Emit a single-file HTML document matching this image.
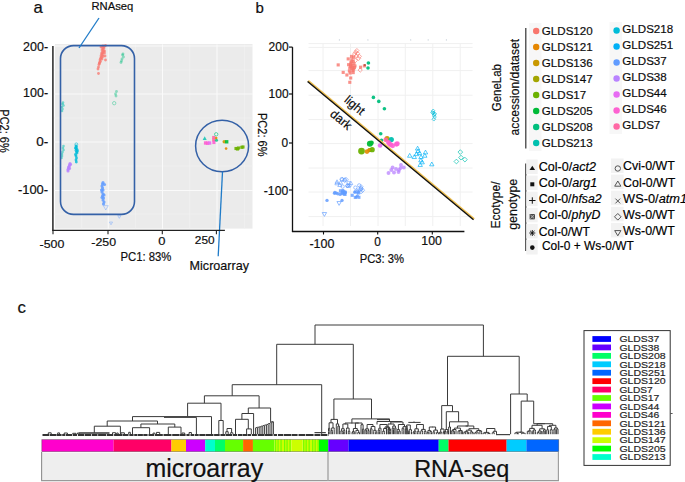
<!DOCTYPE html><html><head><meta charset="utf-8"><style>html,body{margin:0;padding:0;background:#fff;}svg{display:block;}text{font-family:"Liberation Sans",sans-serif;stroke:#000;stroke-width:0.18px;}</style></head><body>
<svg width="685" height="482" viewBox="0 0 685 482">
<rect width="685" height="482" fill="#fff"/>
<rect x="55" y="44" width="197.5" height="184.6" fill="#EBEBEB"/>
<line x1="81.6" y1="44.5" x2="81.6" y2="229" stroke="#F2F2F2" stroke-width="0.6" />
<line x1="135.5" y1="44.5" x2="135.5" y2="229" stroke="#F2F2F2" stroke-width="0.6" />
<line x1="189.6" y1="44.5" x2="189.6" y2="229" stroke="#F2F2F2" stroke-width="0.6" />
<line x1="244.5" y1="44.5" x2="244.5" y2="229" stroke="#F2F2F2" stroke-width="0.6" />
<line x1="54" y1="70" x2="253" y2="70" stroke="#F2F2F2" stroke-width="0.6" />
<line x1="54" y1="118" x2="253" y2="118" stroke="#F2F2F2" stroke-width="0.6" />
<line x1="54" y1="166" x2="253" y2="166" stroke="#F2F2F2" stroke-width="0.6" />
<line x1="54" y1="214" x2="253" y2="214" stroke="#F2F2F2" stroke-width="0.6" />
<line x1="108.3" y1="44.5" x2="108.3" y2="229" stroke="#FAFAFA" stroke-width="1.1" />
<line x1="162.5" y1="44.5" x2="162.5" y2="229" stroke="#FAFAFA" stroke-width="1.1" />
<line x1="217" y1="44.5" x2="217" y2="229" stroke="#FAFAFA" stroke-width="1.1" />
<line x1="54" y1="46" x2="253" y2="46" stroke="#FAFAFA" stroke-width="1.1" />
<line x1="54" y1="94" x2="253" y2="94" stroke="#FAFAFA" stroke-width="1.1" />
<line x1="54" y1="142" x2="253" y2="142" stroke="#FAFAFA" stroke-width="1.1" />
<line x1="54" y1="190.5" x2="253" y2="190.5" stroke="#FAFAFA" stroke-width="1.1" />
<circle cx="103" cy="46" r="1.4300000000000002" fill="#F8766D" fill-opacity="0.75"/>
<circle cx="104" cy="46.5" r="1.4300000000000002" fill="#F8766D" fill-opacity="0.75"/>
<circle cx="102.5" cy="47.5" r="1.4300000000000002" fill="#F8766D" fill-opacity="0.75"/>
<circle cx="104" cy="48" r="1.4300000000000002" fill="#F8766D" fill-opacity="0.75"/>
<circle cx="103" cy="49" r="1.4300000000000002" fill="#F8766D" fill-opacity="0.75"/>
<circle cx="102" cy="50" r="1.4300000000000002" fill="#F8766D" fill-opacity="0.75"/>
<circle cx="103.5" cy="51" r="1.4300000000000002" fill="#F8766D" fill-opacity="0.75"/>
<circle cx="102" cy="52.5" r="1.4300000000000002" fill="#F8766D" fill-opacity="0.75"/>
<circle cx="103" cy="53" r="1.4300000000000002" fill="#F8766D" fill-opacity="0.75"/>
<circle cx="101.5" cy="54" r="1.4300000000000002" fill="#F8766D" fill-opacity="0.75"/>
<circle cx="102.5" cy="55" r="1.4300000000000002" fill="#F8766D" fill-opacity="0.75"/>
<circle cx="101" cy="56" r="1.4300000000000002" fill="#F8766D" fill-opacity="0.75"/>
<circle cx="103" cy="56.5" r="1.4300000000000002" fill="#F8766D" fill-opacity="0.75"/>
<circle cx="101.5" cy="57.5" r="1.4300000000000002" fill="#F8766D" fill-opacity="0.75"/>
<circle cx="100.5" cy="58.5" r="1.4300000000000002" fill="#F8766D" fill-opacity="0.75"/>
<circle cx="102" cy="59" r="1.4300000000000002" fill="#F8766D" fill-opacity="0.75"/>
<circle cx="100" cy="60" r="1.4300000000000002" fill="#F8766D" fill-opacity="0.75"/>
<circle cx="100.5" cy="61.5" r="1.4300000000000002" fill="#F8766D" fill-opacity="0.75"/>
<circle cx="99.5" cy="62.5" r="1.4300000000000002" fill="#F8766D" fill-opacity="0.75"/>
<circle cx="99.5" cy="63.5" r="1.4300000000000002" fill="#F8766D" fill-opacity="0.75"/>
<circle cx="104.5" cy="51" r="1.4300000000000002" fill="#F8766D" fill-opacity="0.75"/>
<circle cx="105" cy="56" r="1.4300000000000002" fill="#F8766D" fill-opacity="0.75"/>
<circle cx="105.5" cy="60" r="1.4300000000000002" fill="#F8766D" fill-opacity="0.75"/>
<circle cx="104.5" cy="53" r="1.4300000000000002" fill="#F8766D" fill-opacity="0.75"/>
<circle cx="98.5" cy="67" r="1.4300000000000002" fill="#F8766D" fill-opacity="0.75"/>
<circle cx="98" cy="69" r="1.4300000000000002" fill="#F8766D" fill-opacity="0.75"/>
<circle cx="98.5" cy="73.5" r="1.4300000000000002" fill="#F8766D" fill-opacity="0.75"/>
<circle cx="99" cy="64.5" r="1.4300000000000002" fill="#F8766D" fill-opacity="0.75"/>
<circle cx="105.5" cy="45.5" r="1.4300000000000002" fill="#F8766D" fill-opacity="0.75"/>
<circle cx="101" cy="47" r="1.4300000000000002" fill="#F8766D" fill-opacity="0.75"/>
<circle cx="122.5" cy="55" r="1.4300000000000002" fill="#00BF7D" fill-opacity="0.4"/>
<circle cx="123.5" cy="57" r="1.4300000000000002" fill="#00BF7D" fill-opacity="0.4"/>
<circle cx="122" cy="59" r="1.4300000000000002" fill="#00BF7D" fill-opacity="0.4"/>
<circle cx="121.5" cy="61" r="1.4300000000000002" fill="#00BF7D" fill-opacity="0.4"/>
<circle cx="121" cy="62.5" r="1.4300000000000002" fill="#00BF7D" fill-opacity="0.4"/>
<circle cx="123" cy="54" r="1.4300000000000002" fill="#00BF7D" fill-opacity="0.4"/>
<circle cx="116.5" cy="91.5" r="1.4300000000000002" fill="#00BF7D" fill-opacity="0.4"/>
<circle cx="115.5" cy="94" r="1.4300000000000002" fill="#00BF7D" fill-opacity="0.4"/>
<circle cx="116" cy="96" r="1.4300000000000002" fill="#00BF7D" fill-opacity="0.4"/>
<circle cx="114.2" cy="103.2" r="1.6900000000000002" fill="none" stroke="#00BF7D" stroke-width="0.8" stroke-opacity="0.5"/>
<circle cx="63" cy="102.5" r="1.3" fill="#00C0AF" fill-opacity="0.5"/>
<circle cx="62.5" cy="104" r="1.3" fill="#00C0AF" fill-opacity="0.5"/>
<circle cx="63.5" cy="105.5" r="1.3" fill="#00C0AF" fill-opacity="0.5"/>
<circle cx="62" cy="107" r="1.3" fill="#00C0AF" fill-opacity="0.5"/>
<circle cx="62.5" cy="109" r="1.3" fill="#00C0AF" fill-opacity="0.5"/>
<circle cx="62" cy="111" r="1.3" fill="#00C0AF" fill-opacity="0.5"/>
<circle cx="63" cy="148" r="1.3" fill="#00C0AF" fill-opacity="0.5"/>
<circle cx="63.5" cy="150" r="1.3" fill="#00C0AF" fill-opacity="0.5"/>
<circle cx="62.5" cy="152" r="1.3" fill="#00C0AF" fill-opacity="0.5"/>
<circle cx="62" cy="154" r="1.3" fill="#00C0AF" fill-opacity="0.5"/>
<circle cx="62" cy="156" r="1.3" fill="#00C0AF" fill-opacity="0.5"/>
<circle cx="61.5" cy="158" r="1.3" fill="#00C0AF" fill-opacity="0.5"/>
<circle cx="63.5" cy="146" r="1.3" fill="#00C0AF" fill-opacity="0.5"/>
<circle cx="76" cy="146" r="1.4300000000000002" fill="#00BCD8" fill-opacity="0.8"/>
<circle cx="76.5" cy="147" r="1.4300000000000002" fill="#00BCD8" fill-opacity="0.8"/>
<circle cx="76" cy="148.5" r="1.4300000000000002" fill="#00BCD8" fill-opacity="0.8"/>
<circle cx="77" cy="149.5" r="1.4300000000000002" fill="#00BCD8" fill-opacity="0.8"/>
<circle cx="76" cy="150.5" r="1.4300000000000002" fill="#00BCD8" fill-opacity="0.8"/>
<circle cx="76.5" cy="152" r="1.4300000000000002" fill="#00BCD8" fill-opacity="0.8"/>
<circle cx="77" cy="153" r="1.4300000000000002" fill="#00BCD8" fill-opacity="0.8"/>
<circle cx="75.5" cy="154.5" r="1.4300000000000002" fill="#00BCD8" fill-opacity="0.8"/>
<circle cx="76" cy="156" r="1.4300000000000002" fill="#00BCD8" fill-opacity="0.8"/>
<circle cx="76.5" cy="158" r="1.4300000000000002" fill="#00BCD8" fill-opacity="0.8"/>
<circle cx="76" cy="160" r="1.4300000000000002" fill="#00BCD8" fill-opacity="0.8"/>
<circle cx="76.3" cy="162" r="1.4300000000000002" fill="#00BCD8" fill-opacity="0.8"/>
<circle cx="77.5" cy="151" r="1.4300000000000002" fill="#00BCD8" fill-opacity="0.8"/>
<circle cx="75.5" cy="148" r="1.4300000000000002" fill="#00BCD8" fill-opacity="0.8"/>
<circle cx="76.3" cy="144.3" r="1.4300000000000002" fill="none" stroke="#00BCD8" stroke-width="0.8" stroke-opacity="0.7"/>
<circle cx="70" cy="163.5" r="1.56" fill="#B983FF" fill-opacity="0.85"/>
<circle cx="69.5" cy="165" r="1.56" fill="#B983FF" fill-opacity="0.85"/>
<circle cx="69" cy="166.5" r="1.56" fill="#B983FF" fill-opacity="0.85"/>
<circle cx="68.5" cy="168" r="1.56" fill="#B983FF" fill-opacity="0.85"/>
<circle cx="68" cy="169.5" r="1.56" fill="#B983FF" fill-opacity="0.85"/>
<circle cx="68" cy="171" r="1.56" fill="#B983FF" fill-opacity="0.85"/>
<circle cx="69" cy="167" r="1.56" fill="#B983FF" fill-opacity="0.85"/>
<circle cx="70.5" cy="164.5" r="1.56" fill="#B983FF" fill-opacity="0.85"/>
<circle cx="69.5" cy="168.5" r="1.56" fill="#B983FF" fill-opacity="0.85"/>
<circle cx="103" cy="182.5" r="1.56" fill="#619CFF" fill-opacity="0.85"/>
<circle cx="102.5" cy="184" r="1.56" fill="#619CFF" fill-opacity="0.85"/>
<circle cx="102" cy="186" r="1.56" fill="#619CFF" fill-opacity="0.85"/>
<circle cx="102.5" cy="188" r="1.56" fill="#619CFF" fill-opacity="0.85"/>
<circle cx="103" cy="190" r="1.56" fill="#619CFF" fill-opacity="0.85"/>
<circle cx="102" cy="192" r="1.56" fill="#619CFF" fill-opacity="0.85"/>
<circle cx="103" cy="194" r="1.56" fill="#619CFF" fill-opacity="0.85"/>
<circle cx="102.5" cy="196" r="1.56" fill="#619CFF" fill-opacity="0.85"/>
<circle cx="103.5" cy="198" r="1.56" fill="#619CFF" fill-opacity="0.85"/>
<circle cx="103" cy="200" r="1.56" fill="#619CFF" fill-opacity="0.85"/>
<circle cx="104" cy="202" r="1.56" fill="#619CFF" fill-opacity="0.85"/>
<circle cx="103.5" cy="204" r="1.56" fill="#619CFF" fill-opacity="0.85"/>
<circle cx="104.5" cy="184.5" r="1.56" fill="#619CFF" fill-opacity="0.85"/>
<circle cx="101.5" cy="190" r="1.56" fill="#619CFF" fill-opacity="0.85"/>
<circle cx="104" cy="195" r="1.56" fill="#619CFF" fill-opacity="0.85"/>
<circle cx="102" cy="197.5" r="1.56" fill="#619CFF" fill-opacity="0.85"/>
<path d="M105.8 209.996L108.29599999999999 205.628L103.304 205.628Z" fill="none" stroke="#619CFF" stroke-width="0.8" stroke-opacity="0.5"/>
<path d="M119.3 218.36L120.86 215.63000000000002L117.74 215.63000000000002Z" fill="none" stroke="#619CFF" stroke-width="0.8" stroke-opacity="0.5"/>
<path d="M111 224.76L112.56 222.03L109.44 222.03Z" fill="none" stroke="#619CFF" stroke-width="0.8" stroke-opacity="0.5"/>
<path d="M204.7 136.372L206.72799999999998 139.921L202.672 139.921Z" fill="#00C0AF" fill-opacity="0.8"/>
<rect x="203.91" y="141.31" width="3.3800000000000003" height="3.3800000000000003" fill="#FD61D1" fill-opacity="0.9"/>
<rect x="205.91" y="141.51" width="3.3800000000000003" height="3.3800000000000003" fill="#FD61D1" fill-opacity="0.9"/>
<rect x="207.91" y="141.31" width="3.3800000000000003" height="3.3800000000000003" fill="#E76BF3" fill-opacity="0.9"/>
<rect x="212.14" y="135.94" width="3.12" height="3.12" fill="#FF67A4" fill-opacity="0.9"/>
<rect x="212.14" y="138.44" width="3.12" height="3.12" fill="#FF67A4" fill-opacity="0.9"/>
<rect x="212.34" y="140.94" width="3.12" height="3.12" fill="#FD61D1" fill-opacity="0.9"/>
<circle cx="216.2" cy="134.3" r="1.6900000000000002" fill="none" stroke="#00BF7D" stroke-width="0.8" stroke-opacity="0.8"/>
<circle cx="216.2" cy="138" r="1.3" fill="#E58700" fill-opacity="0.9"/>
<circle cx="216.5" cy="140.3" r="1.56" fill="#00BF7D" fill-opacity="0.8"/>
<circle cx="224.2" cy="141.8" r="1.6900000000000002" fill="#C99800" fill-opacity="0.9"/>
<rect x="225.01" y="140.11" width="3.3800000000000003" height="3.3800000000000003" fill="#00BA38" fill-opacity="0.9"/>
<circle cx="226.1" cy="148.6" r="1.3" fill="#E58700" fill-opacity="0.9"/>
<rect x="234.44" y="146.94" width="3.12" height="3.12" fill="#6BB100" fill-opacity="0.9"/>
<rect x="235.94" y="147.44" width="3.12" height="3.12" fill="#6BB100" fill-opacity="0.9"/>
<rect x="236.94" y="146.44" width="3.12" height="3.12" fill="#6BB100" fill-opacity="0.9"/>
<rect x="240.24" y="145.74" width="3.12" height="3.12" fill="#6BB100" fill-opacity="0.9"/>
<rect x="241.44" y="145.44" width="3.12" height="3.12" fill="#6BB100" fill-opacity="0.9"/>
<rect x="60.5" y="45.6" width="74" height="168.8" rx="13" ry="13" fill="none" stroke="#3461A7" stroke-width="1.6"/>
<ellipse cx="222.1" cy="146" rx="26.5" ry="25.7" fill="none" stroke="#3461A7" stroke-width="1.5"/>
<line x1="99" y1="18" x2="79" y2="48" stroke="#1F7BC8" stroke-width="1.3" />
<line x1="222.5" y1="171.7" x2="218.2" y2="256.2" stroke="#1F7BC8" stroke-width="1.3" />
<line x1="52.9" y1="46" x2="52.9" y2="231" stroke="#333" stroke-width="1.6" />
<line x1="52.4" y1="230.4" x2="224.9" y2="230.4" stroke="#222" stroke-width="1.3" />
<line x1="53" y1="230.4" x2="53" y2="234.3" stroke="#222" stroke-width="1.1" />
<line x1="108" y1="230.4" x2="108" y2="234.3" stroke="#222" stroke-width="1.1" />
<line x1="162.3" y1="230.4" x2="162.3" y2="234.3" stroke="#222" stroke-width="1.1" />
<line x1="216.4" y1="230.4" x2="216.4" y2="234.3" stroke="#222" stroke-width="1.1" />
<text x="23.1" y="50.6" font-size="12.3" fill="#111" textLength="25" lengthAdjust="spacingAndGlyphs" >200-</text>
<text x="23.1" y="97.4" font-size="12.3" fill="#111" textLength="25" lengthAdjust="spacingAndGlyphs" >100-</text>
<text x="36.2" y="146.0" font-size="12.3" fill="#111" textLength="12" lengthAdjust="spacingAndGlyphs" >0-</text>
<text x="17.9" y="193.7" font-size="12.3" fill="#111" textLength="30.2" lengthAdjust="spacingAndGlyphs" >-100-</text>
<text x="39.6" y="248.2" font-size="11.8" fill="#111" textLength="24.8" lengthAdjust="spacingAndGlyphs" >-500</text>
<text x="91.3" y="245.9" font-size="11.8" fill="#111" textLength="24.8" lengthAdjust="spacingAndGlyphs" >-250</text>
<text x="158.3" y="245.2" font-size="11.8" fill="#111" textLength="7.2" lengthAdjust="spacingAndGlyphs" >0</text>
<text x="194.8" y="243.8" font-size="11.8" fill="#111" textLength="19.8" lengthAdjust="spacingAndGlyphs" >250</text>
<text x="120.4" y="261.3" font-size="12" fill="#111" textLength="51" lengthAdjust="spacingAndGlyphs" >PC1: 83%</text>
<text x="0.3" y="109.3" font-size="12.5" fill="#111" textLength="43.5" lengthAdjust="spacingAndGlyphs" transform="rotate(90 0.3 109.3)" >PC2: 6%</text>
<text x="33.4" y="13.1" font-size="16.6" fill="#111" >a</text>
<text x="91.5" y="10.3" font-size="11.2" fill="#111" textLength="41.8" lengthAdjust="spacingAndGlyphs" >RNAseq</text>
<text x="189.6" y="270.4" font-size="12.6" fill="#111" textLength="59.4" lengthAdjust="spacingAndGlyphs" >Microarray</text>
<line x1="323" y1="43.2" x2="323" y2="226" stroke="#F0F0F0" stroke-width="1" />
<line x1="350.5" y1="43.2" x2="350.5" y2="226" stroke="#F0F0F0" stroke-width="1" />
<line x1="378" y1="43.2" x2="378" y2="226" stroke="#F0F0F0" stroke-width="1" />
<line x1="405.3" y1="43.2" x2="405.3" y2="226" stroke="#F0F0F0" stroke-width="1" />
<line x1="432.8" y1="43.2" x2="432.8" y2="226" stroke="#F0F0F0" stroke-width="1" />
<line x1="460.2" y1="43.2" x2="460.2" y2="226" stroke="#F0F0F0" stroke-width="1" />
<line x1="308.5" y1="43.6" x2="472.6" y2="43.6" stroke="#F0F0F0" stroke-width="1" />
<line x1="308.5" y1="47.4" x2="472.6" y2="47.4" stroke="#F0F0F0" stroke-width="1" />
<line x1="308.5" y1="70.6" x2="472.6" y2="70.6" stroke="#F0F0F0" stroke-width="1" />
<line x1="308.5" y1="95.2" x2="472.6" y2="95.2" stroke="#F0F0F0" stroke-width="1" />
<line x1="308.5" y1="119.6" x2="472.6" y2="119.6" stroke="#F0F0F0" stroke-width="1" />
<line x1="308.5" y1="143.6" x2="472.6" y2="143.6" stroke="#F0F0F0" stroke-width="1" />
<line x1="308.5" y1="168" x2="472.6" y2="168" stroke="#F0F0F0" stroke-width="1" />
<line x1="308.5" y1="192" x2="472.6" y2="192" stroke="#F0F0F0" stroke-width="1" />
<line x1="308.5" y1="216.6" x2="472.6" y2="216.6" stroke="#F0F0F0" stroke-width="1" />
<circle cx="339.4" cy="39.9" r="0.6" fill="#9ab" fill-opacity="0.6"/>
<circle cx="367.9" cy="39.9" r="0.6" fill="#9ab" fill-opacity="0.6"/>
<circle cx="410.7" cy="39.9" r="0.6" fill="#9ab" fill-opacity="0.6"/>
<circle cx="428.2" cy="39.9" r="0.6" fill="#9ab" fill-opacity="0.6"/>
<circle cx="446.4" cy="39.9" r="0.6" fill="#9ab" fill-opacity="0.6"/>
<rect x="336.64" y="63.34" width="3.12" height="3.12" fill="#F8766D" fill-opacity="0.8"/>
<rect x="341.64" y="70.84" width="3.12" height="3.12" fill="#F8766D" fill-opacity="0.8"/>
<rect x="345.34" y="73.44" width="3.12" height="3.12" fill="#F8766D" fill-opacity="0.8"/>
<rect x="349.14" y="76.44" width="3.12" height="3.12" fill="#F8766D" fill-opacity="0.8"/>
<rect x="348.24" y="80.74" width="3.12" height="3.12" fill="#F8766D" fill-opacity="0.8"/>
<rect x="349.94" y="54.839999999999996" width="3.12" height="3.12" fill="#F8766D" fill-opacity="0.8"/>
<rect x="352.04" y="55.64" width="3.12" height="3.12" fill="#F8766D" fill-opacity="0.8"/>
<rect x="346.64" y="57.339999999999996" width="3.12" height="3.12" fill="#F8766D" fill-opacity="0.8"/>
<rect x="350.34" y="58.14" width="3.12" height="3.12" fill="#F8766D" fill-opacity="0.8"/>
<rect x="351.64" y="59.839999999999996" width="3.12" height="3.12" fill="#F8766D" fill-opacity="0.8"/>
<rect x="352.44" y="62.239999999999995" width="3.12" height="3.12" fill="#F8766D" fill-opacity="0.8"/>
<rect x="347.04" y="63.14" width="3.12" height="3.12" fill="#F8766D" fill-opacity="0.8"/>
<rect x="349.14" y="64.74" width="3.12" height="3.12" fill="#F8766D" fill-opacity="0.8"/>
<rect x="350.74" y="65.64" width="3.12" height="3.12" fill="#F8766D" fill-opacity="0.8"/>
<rect x="352.84" y="66.03999999999999" width="3.12" height="3.12" fill="#F8766D" fill-opacity="0.8"/>
<rect x="348.24" y="66.44" width="3.12" height="3.12" fill="#F8766D" fill-opacity="0.8"/>
<rect x="350.34" y="67.24" width="3.12" height="3.12" fill="#F8766D" fill-opacity="0.8"/>
<rect x="352.04" y="67.64" width="3.12" height="3.12" fill="#F8766D" fill-opacity="0.8"/>
<rect x="347.84" y="69.34" width="3.12" height="3.12" fill="#F8766D" fill-opacity="0.8"/>
<rect x="351.64" y="71.03999999999999" width="3.12" height="3.12" fill="#F8766D" fill-opacity="0.8"/>
<rect x="359.04" y="65.64" width="3.12" height="3.12" fill="#F8766D" fill-opacity="0.8"/>
<rect x="362.84" y="64.34" width="3.12" height="3.12" fill="#F8766D" fill-opacity="0.8"/>
<rect x="348.94" y="63.44" width="3.12" height="3.12" fill="#F8766D" fill-opacity="0.8"/>
<rect x="350.44" y="63.94" width="3.12" height="3.12" fill="#F8766D" fill-opacity="0.8"/>
<rect x="349.44" y="61.44" width="3.12" height="3.12" fill="#F8766D" fill-opacity="0.8"/>
<rect x="351.24" y="68.94" width="3.12" height="3.12" fill="#F8766D" fill-opacity="0.8"/>
<rect x="348.64" y="71.44" width="3.12" height="3.12" fill="#F8766D" fill-opacity="0.8"/>
<rect x="353.44" y="64.44" width="3.12" height="3.12" fill="#F8766D" fill-opacity="0.8"/>
<rect x="349.64" y="60.44" width="3.12" height="3.12" fill="#F8766D" fill-opacity="0.8"/>
<path d="M356.9 48.487500000000004L359.0125 50.6L356.9 52.7125L354.78749999999997 50.6Z" fill="none" stroke="#F8766D" stroke-width="0.8" stroke-opacity="0.8"/>
<path d="M355.7 50.087500000000006L357.8125 52.2L355.7 54.3125L353.5875 52.2Z" fill="none" stroke="#F8766D" stroke-width="0.8" stroke-opacity="0.8"/>
<path d="M354.6 51.8875L356.71250000000003 54L354.6 56.1125L352.4875 54Z" fill="none" stroke="#F8766D" stroke-width="0.8" stroke-opacity="0.8"/>
<path d="M357.5 51.3875L359.6125 53.5L357.5 55.6125L355.3875 53.5Z" fill="none" stroke="#F8766D" stroke-width="0.8" stroke-opacity="0.8"/>
<path d="M359.4 54.2875L361.5125 56.4L359.4 58.512499999999996L357.28749999999997 56.4Z" fill="none" stroke="#F8766D" stroke-width="0.8" stroke-opacity="0.8"/>
<path d="M358.6 56.2875L360.71250000000003 58.4L358.6 60.512499999999996L356.4875 58.4Z" fill="none" stroke="#F8766D" stroke-width="0.8" stroke-opacity="0.8"/>
<path d="M356.3 53.6875L358.4125 55.8L356.3 57.912499999999994L354.1875 55.8Z" fill="none" stroke="#F8766D" stroke-width="0.8" stroke-opacity="0.8"/>
<path d="M360.2 67.9875L362.3125 70.1L360.2 72.21249999999999L358.0875 70.1Z" fill="none" stroke="#F8766D" stroke-width="0.8" stroke-opacity="0.8"/>
<path d="M355.3 58.3875L357.4125 60.5L355.3 62.6125L353.1875 60.5Z" fill="none" stroke="#F8766D" stroke-width="0.8" stroke-opacity="0.8"/>
<circle cx="364.8" cy="65.1" r="1.1700000000000002" fill="#B5503F" fill-opacity="0.9"/>
<circle cx="368.4" cy="63" r="1.8199999999999998" fill="#00BF7D" fill-opacity="0.95"/>
<circle cx="368" cy="68" r="1.8199999999999998" fill="#00BF7D" fill-opacity="0.95"/>
<circle cx="373.4" cy="97.4" r="1.8199999999999998" fill="#00BF7D" fill-opacity="0.95"/>
<circle cx="378.8" cy="101.4" r="1.8199999999999998" fill="#00BF7D" fill-opacity="0.95"/>
<circle cx="384.4" cy="108.7" r="1.8199999999999998" fill="#00BF7D" fill-opacity="0.95"/>
<circle cx="380.7" cy="133.8" r="1.8199999999999998" fill="#00BF7D" fill-opacity="0.95"/>
<circle cx="381.5" cy="140.4" r="1.8199999999999998" fill="#00BF7D" fill-opacity="0.95"/>
<path d="M433.2 109.04100000000001L435.05899999999997 110.9L433.2 112.759L431.341 110.9Z" fill="none" stroke="#00BCD8" stroke-width="0.8" stroke-opacity="0.8"/>
<path d="M433.5 111.141L435.359 113L433.5 114.859L431.641 113Z" fill="none" stroke="#00BCD8" stroke-width="0.8" stroke-opacity="0.8"/>
<path d="M434 113.141L435.859 115L434 116.859L432.141 115Z" fill="none" stroke="#00BCD8" stroke-width="0.8" stroke-opacity="0.8"/>
<path d="M434.5 115.141L436.359 117L434.5 118.859L432.641 117Z" fill="none" stroke="#00BCD8" stroke-width="0.8" stroke-opacity="0.8"/>
<path d="M433.8 117.34100000000001L435.659 119.2L433.8 121.059L431.94100000000003 119.2Z" fill="none" stroke="#00BCD8" stroke-width="0.8" stroke-opacity="0.8"/>
<path d="M432.5 110.641L434.359 112.5L432.5 114.359L430.641 112.5Z" fill="none" stroke="#00BCD8" stroke-width="0.8" stroke-opacity="0.8"/>
<path d="M434.8 112.141L436.659 114L434.8 115.859L432.94100000000003 114Z" fill="none" stroke="#00BCD8" stroke-width="0.8" stroke-opacity="0.8"/>
<path d="M409.7 153.416L411.884 157.238L407.51599999999996 157.238Z" fill="none" stroke="#00B0F6" stroke-width="0.8" stroke-opacity="0.85"/>
<path d="M414.3 154.716L416.48400000000004 158.538L412.116 158.538Z" fill="none" stroke="#00B0F6" stroke-width="0.8" stroke-opacity="0.85"/>
<path d="M417.6 146.216L419.78400000000005 150.038L415.416 150.038Z" fill="none" stroke="#00B0F6" stroke-width="0.8" stroke-opacity="0.85"/>
<path d="M419.6 150.816L421.78400000000005 154.638L417.416 154.638Z" fill="none" stroke="#00B0F6" stroke-width="0.8" stroke-opacity="0.85"/>
<path d="M420.9 158.016L423.084 161.838L418.71599999999995 161.838Z" fill="none" stroke="#00B0F6" stroke-width="0.8" stroke-opacity="0.85"/>
<path d="M420.2 162.616L422.384 166.43800000000002L418.01599999999996 166.43800000000002Z" fill="none" stroke="#00B0F6" stroke-width="0.8" stroke-opacity="0.85"/>
<path d="M425.5 150.116L427.684 153.93800000000002L423.316 153.93800000000002Z" fill="none" stroke="#00B0F6" stroke-width="0.8" stroke-opacity="0.85"/>
<path d="M424.8 153.416L426.98400000000004 157.238L422.616 157.238Z" fill="none" stroke="#00B0F6" stroke-width="0.8" stroke-opacity="0.85"/>
<path d="M431.8 162.016L433.98400000000004 165.838L429.616 165.838Z" fill="none" stroke="#00B0F6" stroke-width="0.8" stroke-opacity="0.85"/>
<path d="M422.2 160.016L424.384 163.838L420.01599999999996 163.838Z" fill="none" stroke="#00B0F6" stroke-width="0.8" stroke-opacity="0.85"/>
<path d="M418 148.816L420.184 152.638L415.816 152.638Z" fill="none" stroke="#00B0F6" stroke-width="0.8" stroke-opacity="0.85"/>
<path d="M421 154.816L423.184 158.638L418.816 158.638Z" fill="none" stroke="#00B0F6" stroke-width="0.8" stroke-opacity="0.85"/>
<path d="M416.5 151.816L418.684 155.638L414.316 155.638Z" fill="none" stroke="#00B0F6" stroke-width="0.8" stroke-opacity="0.85"/>
<path d="M460.3 149.73399999999998L462.666 152.1L460.3 154.466L457.934 152.1Z" fill="none" stroke="#00C0AF" stroke-width="0.8" stroke-opacity="0.85"/>
<path d="M461 155.23399999999998L463.366 157.6L461 159.966L458.634 157.6Z" fill="none" stroke="#00C0AF" stroke-width="0.8" stroke-opacity="0.85"/>
<path d="M464.9 157.23399999999998L467.26599999999996 159.6L464.9 161.966L462.534 159.6Z" fill="none" stroke="#00C0AF" stroke-width="0.8" stroke-opacity="0.85"/>
<path d="M456.4 159.13400000000001L458.76599999999996 161.5L456.4 163.86599999999999L454.034 161.5Z" fill="none" stroke="#00C0AF" stroke-width="0.8" stroke-opacity="0.85"/>
<circle cx="400.5" cy="168.1" r="1.9500000000000002" fill="#B983FF" fill-opacity="0.75"/>
<circle cx="392.6" cy="167.5" r="1.9500000000000002" fill="#B983FF" fill-opacity="0.75"/>
<circle cx="398.5" cy="172" r="1.9500000000000002" fill="#B983FF" fill-opacity="0.75"/>
<circle cx="403.8" cy="167.5" r="1.9500000000000002" fill="#B983FF" fill-opacity="0.75"/>
<circle cx="391.3" cy="170" r="1.9500000000000002" fill="#B983FF" fill-opacity="0.75"/>
<circle cx="396" cy="169" r="1.9500000000000002" fill="#B983FF" fill-opacity="0.75"/>
<circle cx="394" cy="172.5" r="1.9500000000000002" fill="#B983FF" fill-opacity="0.75"/>
<circle cx="401" cy="165" r="1.9500000000000002" fill="#B983FF" fill-opacity="0.75"/>
<circle cx="399" cy="170" r="1.9500000000000002" fill="#B983FF" fill-opacity="0.75"/>
<circle cx="388.5" cy="173" r="1.9500000000000002" fill="#B983FF" fill-opacity="0.75"/>
<path d="M347.4 183.503L349.597 185.7L347.4 187.897L345.203 185.7Z" fill="none" stroke="#619CFF" stroke-width="0.8" stroke-opacity="0.75"/>
<circle cx="342.6" cy="186.6" r="1.6900000000000002" fill="none" stroke="#619CFF" stroke-width="0.8" stroke-opacity="0.75"/>
<path d="M346.0 177.303L348.197 179.5L346.0 181.697L343.803 179.5Z" fill="none" stroke="#619CFF" stroke-width="0.8" stroke-opacity="0.75"/>
<path d="M337.0 179.77200000000002L339.028 183.321L334.972 183.321Z" fill="none" stroke="#619CFF" stroke-width="0.8" stroke-opacity="0.75"/>
<path d="M339.8 182.972L341.82800000000003 186.521L337.772 186.521Z" fill="none" stroke="#619CFF" stroke-width="0.8" stroke-opacity="0.75"/>
<path d="M348.3 183.572L350.32800000000003 187.12099999999998L346.272 187.12099999999998Z" fill="none" stroke="#619CFF" stroke-width="0.8" stroke-opacity="0.75"/>
<path d="M342.2 177.503L344.397 179.7L342.2 181.897L340.003 179.7Z" fill="none" stroke="#619CFF" stroke-width="0.8" stroke-opacity="0.75"/>
<circle cx="344.7" cy="179.7" r="1.6900000000000002" fill="none" stroke="#619CFF" stroke-width="0.8" stroke-opacity="0.75"/>
<circle cx="348.5" cy="183.0" r="1.6900000000000002" fill="none" stroke="#619CFF" stroke-width="0.8" stroke-opacity="0.75"/>
<circle cx="341.8" cy="179.1" r="1.6900000000000002" fill="none" stroke="#619CFF" stroke-width="0.8" stroke-opacity="0.75"/>
<path d="M350.8 181.072L352.82800000000003 184.62099999999998L348.772 184.62099999999998Z" fill="none" stroke="#619CFF" stroke-width="0.8" stroke-opacity="0.75"/>
<circle cx="349.5" cy="185.6" r="1.6900000000000002" fill="none" stroke="#619CFF" stroke-width="0.8" stroke-opacity="0.75"/>
<circle cx="347.6" cy="185.8" r="1.6900000000000002" fill="none" stroke="#619CFF" stroke-width="0.8" stroke-opacity="0.75"/>
<path d="M340.6 180.672L342.62800000000004 184.22099999999998L338.572 184.22099999999998Z" fill="none" stroke="#619CFF" stroke-width="0.8" stroke-opacity="0.75"/>
<path d="M336.9 181.27200000000002L338.928 184.821L334.87199999999996 184.821Z" fill="none" stroke="#619CFF" stroke-width="0.8" stroke-opacity="0.75"/>
<path d="M344.7 178.303L346.897 180.5L344.7 182.697L342.503 180.5Z" fill="none" stroke="#619CFF" stroke-width="0.8" stroke-opacity="0.75"/>
<circle cx="359.2" cy="185.4" r="1.6900000000000002" fill="none" stroke="#619CFF" stroke-width="0.8" stroke-opacity="0.75"/>
<path d="M362.5 188.003L364.697 190.2L362.5 192.397L360.303 190.2Z" fill="none" stroke="#619CFF" stroke-width="0.8" stroke-opacity="0.75"/>
<path d="M361.0 189.503L363.197 191.7L361.0 193.897L358.803 191.7Z" fill="none" stroke="#619CFF" stroke-width="0.8" stroke-opacity="0.75"/>
<path d="M357.2 189.603L359.397 191.8L357.2 193.997L355.003 191.8Z" fill="none" stroke="#619CFF" stroke-width="0.8" stroke-opacity="0.75"/>
<path d="M357.0 188.503L359.197 190.7L357.0 192.897L354.803 190.7Z" fill="none" stroke="#619CFF" stroke-width="0.8" stroke-opacity="0.75"/>
<path d="M361.1 186.503L363.297 188.7L361.1 190.897L358.903 188.7Z" fill="none" stroke="#619CFF" stroke-width="0.8" stroke-opacity="0.75"/>
<circle cx="360.9" cy="188.5" r="1.6900000000000002" fill="none" stroke="#619CFF" stroke-width="0.8" stroke-opacity="0.75"/>
<circle cx="355.4" cy="187.6" r="1.6900000000000002" fill="none" stroke="#619CFF" stroke-width="0.8" stroke-opacity="0.75"/>
<path d="M360.2 187.603L362.397 189.8L360.2 191.997L358.003 189.8Z" fill="none" stroke="#619CFF" stroke-width="0.8" stroke-opacity="0.75"/>
<path d="M361.0 184.603L363.197 186.8L361.0 188.997L358.803 186.8Z" fill="none" stroke="#619CFF" stroke-width="0.8" stroke-opacity="0.75"/>
<circle cx="340.1" cy="194.4" r="1.6900000000000002" fill="#619CFF" fill-opacity="0.8"/>
<rect x="338.91" y="189.21" width="3.3800000000000003" height="3.3800000000000003" fill="#619CFF" fill-opacity="0.8"/>
<rect x="342.51" y="191.91" width="3.3800000000000003" height="3.3800000000000003" fill="#619CFF" fill-opacity="0.8"/>
<circle cx="343.7" cy="192.4" r="1.6900000000000002" fill="#619CFF" fill-opacity="0.8"/>
<circle cx="344.5" cy="192.4" r="1.6900000000000002" fill="#619CFF" fill-opacity="0.8"/>
<circle cx="336.3" cy="193.1" r="1.6900000000000002" fill="#619CFF" fill-opacity="0.8"/>
<rect x="341.01" y="190.61" width="3.3800000000000003" height="3.3800000000000003" fill="#619CFF" fill-opacity="0.8"/>
<rect x="343.21" y="192.61" width="3.3800000000000003" height="3.3800000000000003" fill="#619CFF" fill-opacity="0.8"/>
<circle cx="334.5" cy="193.3" r="1.6900000000000002" fill="#619CFF" fill-opacity="0.8"/>
<circle cx="342.9" cy="190.7" r="1.6900000000000002" fill="#619CFF" fill-opacity="0.8"/>
<circle cx="337.8" cy="193.7" r="1.6900000000000002" fill="#619CFF" fill-opacity="0.8"/>
<circle cx="343.3" cy="191.0" r="1.6900000000000002" fill="#619CFF" fill-opacity="0.8"/>
<circle cx="345.2" cy="192.7" r="1.6900000000000002" fill="#619CFF" fill-opacity="0.8"/>
<rect x="340.41" y="191.71" width="3.3800000000000003" height="3.3800000000000003" fill="#619CFF" fill-opacity="0.8"/>
<circle cx="334.9" cy="192.5" r="1.6900000000000002" fill="#619CFF" fill-opacity="0.8"/>
<circle cx="345.4" cy="192.0" r="1.6900000000000002" fill="#619CFF" fill-opacity="0.8"/>
<rect x="356.14" y="190.24" width="3.12" height="3.12" fill="#619CFF" fill-opacity="0.8"/>
<rect x="350.64" y="193.74" width="3.12" height="3.12" fill="#619CFF" fill-opacity="0.8"/>
<rect x="353.74" y="195.84" width="3.12" height="3.12" fill="#619CFF" fill-opacity="0.8"/>
<rect x="357.34" y="195.74" width="3.12" height="3.12" fill="#619CFF" fill-opacity="0.8"/>
<circle cx="354.8" cy="191.9" r="1.56" fill="#619CFF" fill-opacity="0.8"/>
<circle cx="356.3" cy="197.0" r="1.56" fill="#619CFF" fill-opacity="0.8"/>
<rect x="357.04" y="191.34" width="3.12" height="3.12" fill="#619CFF" fill-opacity="0.8"/>
<circle cx="354.9" cy="192.2" r="1.56" fill="#619CFF" fill-opacity="0.8"/>
<circle cx="357.4" cy="195.8" r="1.56" fill="#619CFF" fill-opacity="0.8"/>
<circle cx="327" cy="200.4" r="1.6900000000000002" fill="#619CFF" fill-opacity="0.85"/>
<circle cx="342" cy="200.4" r="1.6900000000000002" fill="#619CFF" fill-opacity="0.85"/>
<path d="M339.1 205.384L341.28400000000005 201.56199999999998L336.916 201.56199999999998Z" fill="none" stroke="#619CFF" stroke-width="0.8" stroke-opacity="0.85"/>
<path d="M324.4 216.384L326.584 212.56199999999998L322.21599999999995 212.56199999999998Z" fill="none" stroke="#619CFF" stroke-width="0.8" stroke-opacity="0.85"/>
<circle cx="361.5" cy="151.1" r="3.3800000000000003" fill="#6BB100" fill-opacity="0.95"/>
<circle cx="369.9" cy="143.7" r="2.9899999999999998" fill="#00BA38" fill-opacity="0.95"/>
<circle cx="371.5" cy="142.8" r="2.3400000000000003" fill="#00BA38" fill-opacity="0.95"/>
<circle cx="372.2" cy="149.7" r="2.6" fill="#6BB100" fill-opacity="0.95"/>
<circle cx="369.6" cy="150.2" r="2.08" fill="#6BB100" fill-opacity="0.95"/>
<circle cx="367" cy="151.6" r="2.3400000000000003" fill="#E58700" fill-opacity="0.9"/>
<circle cx="368.9" cy="149.9" r="1.6900000000000002" fill="#E58700" fill-opacity="0.9"/>
<circle cx="380.1" cy="145.5" r="2.3400000000000003" fill="#E76BF3" fill-opacity="0.9"/>
<circle cx="387.1" cy="138.5" r="2.6" fill="#C99800" fill-opacity="0.95"/>
<circle cx="385.7" cy="139.8" r="2.3400000000000003" fill="#FF67A4" fill-opacity="0.9"/>
<circle cx="391.3" cy="139.5" r="2.6" fill="#00C0AF" fill-opacity="0.95"/>
<circle cx="388.5" cy="142.4" r="2.4699999999999998" fill="#FD61D1" fill-opacity="0.9"/>
<circle cx="390.8" cy="144.7" r="2.4699999999999998" fill="#FD61D1" fill-opacity="0.9"/>
<circle cx="392.6" cy="145.7" r="2.4699999999999998" fill="#FD61D1" fill-opacity="0.9"/>
<circle cx="396.4" cy="144.3" r="2.4699999999999998" fill="#FD61D1" fill-opacity="0.9"/>
<circle cx="397.3" cy="143.8" r="2.4699999999999998" fill="#FD61D1" fill-opacity="0.9"/>
<circle cx="389.4" cy="143.7" r="2.4699999999999998" fill="#FD61D1" fill-opacity="0.9"/>
<line x1="307.6" y1="81.5" x2="473.5" y2="219.7" stroke="#EFC050" stroke-width="2.0" transform="translate(0.6,-0.7)"/>
<line x1="307.6" y1="81.5" x2="473.5" y2="219.7" stroke="#111" stroke-width="1.4" />
<text x="343.4" y="101.3" font-size="12.3" fill="#111" transform="rotate(39.795378531975466 343.4 101.3)" >light</text>
<text x="329.2" y="115.2" font-size="12.3" fill="#111" transform="rotate(39.795378531975466 329.2 115.2)" >dark</text>
<line x1="292.5" y1="47.1" x2="292.5" y2="231.6" stroke="#111" stroke-width="1.3" />
<line x1="291.9" y1="231.5" x2="464.4" y2="231.5" stroke="#111" stroke-width="1.3" />
<line x1="289" y1="47.1" x2="292.5" y2="47.1" stroke="#111" stroke-width="1.2" />
<line x1="289" y1="94" x2="292.5" y2="94" stroke="#111" stroke-width="1.2" />
<line x1="289" y1="143" x2="292.5" y2="143" stroke="#111" stroke-width="1.2" />
<line x1="289" y1="190" x2="292.5" y2="190" stroke="#111" stroke-width="1.2" />
<line x1="323.5" y1="231.6" x2="323.5" y2="234.5" stroke="#111" stroke-width="1.1" />
<line x1="377.7" y1="231.6" x2="377.7" y2="234.5" stroke="#111" stroke-width="1.1" />
<line x1="432.3" y1="231.6" x2="432.3" y2="234.5" stroke="#111" stroke-width="1.1" />
<text x="268.6" y="51.1" font-size="12" fill="#111" textLength="20" lengthAdjust="spacingAndGlyphs" >200</text>
<text x="268.6" y="97.5" font-size="12" fill="#111" textLength="20" lengthAdjust="spacingAndGlyphs" >100</text>
<text x="281.6" y="147.2" font-size="12" fill="#111" textLength="6.6" lengthAdjust="spacingAndGlyphs" >0</text>
<text x="263.8" y="194.7" font-size="12" fill="#111" textLength="24.4" lengthAdjust="spacingAndGlyphs" >-100</text>
<text x="309.4" y="247.8" font-size="12" fill="#111" textLength="25" lengthAdjust="spacingAndGlyphs" >-100</text>
<text x="374.2" y="245.6" font-size="12" fill="#111" textLength="6.6" lengthAdjust="spacingAndGlyphs" >0</text>
<text x="421.3" y="245.3" font-size="12" fill="#111" textLength="20.6" lengthAdjust="spacingAndGlyphs" >100</text>
<text x="359.7" y="262.6" font-size="12.3" fill="#111" textLength="44.4" lengthAdjust="spacingAndGlyphs" >PC3: 3%</text>
<text x="258.3" y="113" font-size="12.5" fill="#111" textLength="43.5" lengthAdjust="spacingAndGlyphs" transform="rotate(90 258.3 113)" >PC2: 6%</text>
<text x="255.6" y="12.6" font-size="15" fill="#111" >b</text>
<rect x="529" y="23" width="12.5" height="128" fill="#F7F7F7"/>
<rect x="609.5" y="22" width="12.5" height="112" fill="#F7F7F7"/>
<line x1="525.8" y1="28" x2="525.8" y2="148.4" stroke="#333" stroke-width="1.2" />
<circle cx="536.2" cy="31" r="3.2" fill="#F8766D"/>
<text x="541.8" y="34.9" font-size="11.6" fill="#111" >GLDS120</text>
<circle cx="536.2" cy="47" r="3.2" fill="#E58700"/>
<text x="541.8" y="50.9" font-size="11.6" fill="#111" >GLDS121</text>
<circle cx="536.2" cy="63" r="3.2" fill="#C99800"/>
<text x="541.8" y="66.9" font-size="11.6" fill="#111" >GLDS136</text>
<circle cx="536.2" cy="79" r="3.2" fill="#A3A500"/>
<text x="541.8" y="82.9" font-size="11.6" fill="#111" >GLDS147</text>
<circle cx="536.2" cy="95" r="3.2" fill="#6BB100"/>
<text x="541.8" y="98.9" font-size="11.6" fill="#111" >GLDS17</text>
<circle cx="536.2" cy="111" r="3.2" fill="#00BA38"/>
<text x="541.8" y="114.9" font-size="11.6" fill="#111" >GLDS205</text>
<circle cx="536.2" cy="127" r="3.2" fill="#00BF7D"/>
<text x="541.8" y="130.9" font-size="11.6" fill="#111" >GLDS208</text>
<circle cx="536.2" cy="143" r="3.2" fill="#00C0AF"/>
<text x="541.8" y="146.9" font-size="11.6" fill="#111" >GLDS213</text>
<circle cx="616.6" cy="30.5" r="3.2" fill="#00BCD8"/>
<text x="622.3" y="33.2" font-size="11.6" fill="#111" >GLDS218</text>
<circle cx="616.6" cy="46.5" r="3.2" fill="#00B0F6"/>
<text x="622.3" y="49.2" font-size="11.6" fill="#111" >GLDS251</text>
<circle cx="616.6" cy="62.5" r="3.2" fill="#619CFF"/>
<text x="622.3" y="65.2" font-size="11.6" fill="#111" >GLDS37</text>
<circle cx="616.6" cy="78.5" r="3.2" fill="#B983FF"/>
<text x="622.3" y="81.2" font-size="11.6" fill="#111" >GLDS38</text>
<circle cx="616.6" cy="94.5" r="3.2" fill="#E76BF3"/>
<text x="622.3" y="97.2" font-size="11.6" fill="#111" >GLDS44</text>
<circle cx="616.6" cy="110.5" r="3.2" fill="#FD61D1"/>
<text x="622.3" y="113.2" font-size="11.6" fill="#111" >GLDS46</text>
<circle cx="616.6" cy="126.5" r="3.2" fill="#FF67A4"/>
<text x="622.3" y="129.2" font-size="11.6" fill="#111" >GLDS7</text>
<text x="501.2" y="111.2" font-size="12.5" fill="#111" textLength="47.2" lengthAdjust="spacingAndGlyphs" transform="rotate(-90 501.2 111.2)" >GeneLab</text>
<text x="519" y="135.5" font-size="12.5" fill="#111" textLength="96.6" lengthAdjust="spacingAndGlyphs" transform="rotate(-90 519 135.5)" >accession/dataset</text>
<line x1="525.8" y1="163.5" x2="525.8" y2="251" stroke="#333" stroke-width="1.2" />
<rect x="526.3" y="159.5" width="11.4" height="14.5" fill="#F2F2F2"/>
<rect x="526.3" y="175.6" width="11.4" height="14.5" fill="#F2F2F2"/>
<rect x="526.3" y="191.7" width="11.4" height="14.5" fill="#F2F2F2"/>
<rect x="526.3" y="207.8" width="11.4" height="14.5" fill="#F2F2F2"/>
<rect x="526.3" y="223.9" width="11.4" height="14.5" fill="#F2F2F2"/>
<rect x="526.3" y="240.0" width="11.4" height="14.5" fill="#F2F2F2"/>
<rect x="611" y="158.5" width="12.6" height="14.5" fill="#F2F2F2"/>
<rect x="611" y="174.6" width="12.6" height="14.5" fill="#F2F2F2"/>
<rect x="611" y="190.7" width="12.6" height="14.5" fill="#F2F2F2"/>
<rect x="611" y="206.8" width="12.6" height="14.5" fill="#F2F2F2"/>
<rect x="611" y="222.9" width="12.6" height="14.5" fill="#F2F2F2"/>
<text x="538.7" y="170.8" font-size="12.3" fill="#000" textLength="57.2" lengthAdjust="spacingAndGlyphs">Col-0/<tspan font-style="italic">act2</tspan></text>
<text x="538.7" y="186.8" font-size="12.3" fill="#000" textLength="58.6" lengthAdjust="spacingAndGlyphs">Col-0/<tspan font-style="italic">arg1</tspan></text>
<text x="538.7" y="202.5" font-size="12.3" fill="#000" textLength="63" lengthAdjust="spacingAndGlyphs">Col-0/<tspan font-style="italic">hfsa2</tspan></text>
<text x="538.7" y="219.2" font-size="12.3" fill="#000" textLength="61.6" lengthAdjust="spacingAndGlyphs">Col-0/<tspan font-style="italic">phyD</tspan></text>
<text x="538.7" y="235.7" font-size="12.3" fill="#000" textLength="51.3" lengthAdjust="spacingAndGlyphs">Col-0/WT</text>
<text x="541.9" y="250.4" font-size="12.3" fill="#000" textLength="91.9" lengthAdjust="spacingAndGlyphs">Col-0 + Ws-0/WT</text>
<text x="623.1" y="169.9" font-size="12.3" fill="#000" textLength="51.8" lengthAdjust="spacingAndGlyphs">Cvi-0/WT</text>
<text x="623.1" y="186.5" font-size="12.3" fill="#000" textLength="52.2" lengthAdjust="spacingAndGlyphs">Col-0/WT</text>
<text x="623.1" y="203.1" font-size="12.3" fill="#000" textLength="64" lengthAdjust="spacingAndGlyphs">WS-0/<tspan font-style="italic">atm1</tspan></text>
<text x="623.1" y="218.7" font-size="12.3" fill="#000" textLength="51.8" lengthAdjust="spacingAndGlyphs">Ws-0/WT</text>
<text x="623.1" y="234.9" font-size="12.3" fill="#000" textLength="51.8" lengthAdjust="spacingAndGlyphs">Ws-0/WT</text>
<path d="M532.3 165.7L535.0999999999999 169.9L529.5 169.9Z" fill="#111"/>
<rect x="530.3" y="182.3" width="4" height="4" fill="#111"/>
<path d="M529.0999999999999 200.5H535.5M532.3 197.3V203.7" stroke="#111" stroke-width="1" fill="none"/>
<rect x="530.0" y="214.39999999999998" width="4.6" height="4.6" fill="#666" stroke="#111" stroke-width="0.6"/><path d="M530.0999999999999 214.5L534.5 218.89999999999998M534.5 214.5L530.0999999999999 218.89999999999998" stroke="#ccc" stroke-width="0.6"/>
<path d="M529.3 233H535.3M532.3 230V236M530.0999999999999 230.8L534.5 235.2M534.5 230.8L530.0999999999999 235.2" stroke="#111" stroke-width="0.9" fill="none"/>
<circle cx="532.3" cy="247.6" r="2.3" fill="#111"/>
<circle cx="617.8" cy="168.5" r="2.7" fill="none" stroke="#555" stroke-width="1"/>
<path d="M617.8 181L620.9 186.2L614.6999999999999 186.2Z" fill="none" stroke="#555" stroke-width="1"/>
<path d="M615.4 198.6L620.1999999999999 203.4M620.1999999999999 198.6L615.4 203.4" stroke="#555" stroke-width="1"/>
<path d="M617.8 213.5L621.0999999999999 216.8L617.8 220.10000000000002L614.5 216.8Z" fill="none" stroke="#555" stroke-width="1"/>
<path d="M617.8 235.8L620.9 230.60000000000002L614.6999999999999 230.60000000000002Z" fill="none" stroke="#555" stroke-width="1"/>
<text x="500" y="228.5" font-size="12.5" fill="#111" textLength="47" lengthAdjust="spacingAndGlyphs" transform="rotate(-90 500 228.5)" >Ecotype/</text>
<text x="517.3" y="229.8" font-size="12.5" fill="#111" textLength="51" lengthAdjust="spacingAndGlyphs" transform="rotate(-90 517.3 229.8)" >genotype</text>
<text x="17.4" y="312.6" font-size="16.8" fill="#111" >c</text>
<rect x="41.8" y="439.6" width="71.85" height="12" fill="#FF00CC"/>
<rect x="113.6" y="439.6" width="57.85000000000001" height="12" fill="#FF0066"/>
<rect x="171.4" y="439.6" width="14.649999999999995" height="12" fill="#FFCC00"/>
<rect x="186" y="439.6" width="19.24999999999999" height="12" fill="#CC00FF"/>
<rect x="205.2" y="439.6" width="9.850000000000012" height="12" fill="#00FFCC"/>
<rect x="215" y="439.6" width="10.05" height="12" fill="#00FF66"/>
<rect x="225" y="439.6" width="18.149999999999995" height="12" fill="#66FF00"/>
<rect x="243.1" y="439.6" width="9.850000000000012" height="12" fill="#FF6600"/>
<rect x="252.9" y="439.6" width="21.750000000000018" height="12" fill="#66FF00"/>
<rect x="274.6" y="439.6" width="17.099999999999966" height="12" fill="#CCFF00"/>
<rect x="275.1" y="439.6" width="1.1" height="12" fill="#66FF00"/>
<rect x="277.5" y="439.6" width="1.1" height="12" fill="#66FF00"/>
<rect x="280.5" y="439.6" width="1.1" height="12" fill="#66FF00"/>
<rect x="284.1" y="439.6" width="1.1" height="12" fill="#66FF00"/>
<rect x="286.5" y="439.6" width="1.1" height="12" fill="#66FF00"/>
<rect x="289.5" y="439.6" width="1.1" height="12" fill="#66FF00"/>
<rect x="291.7" y="439.6" width="11.05" height="12" fill="#CCFF00"/>
<rect x="302.7" y="439.6" width="16.30000000000001" height="12" fill="#CCFF00"/>
<rect x="303.2" y="439.6" width="1.1" height="12" fill="#66FF00"/>
<rect x="305.6" y="439.6" width="1.1" height="12" fill="#66FF00"/>
<rect x="308.6" y="439.6" width="1.1" height="12" fill="#66FF00"/>
<rect x="312.2" y="439.6" width="1.1" height="12" fill="#66FF00"/>
<rect x="314.6" y="439.6" width="1.1" height="12" fill="#66FF00"/>
<rect x="317.6" y="439.6" width="1.1" height="12" fill="#66FF00"/>
<rect x="319" y="439.6" width="9.350000000000012" height="12" fill="#00FF00"/>
<rect x="328.3" y="439.6" width="20.24999999999999" height="12" fill="#6600FF"/>
<rect x="348.5" y="439.6" width="90.24999999999999" height="12" fill="#0000FF"/>
<rect x="438.7" y="439.6" width="9.850000000000012" height="12" fill="#00FF66"/>
<rect x="448.5" y="439.6" width="58.15000000000002" height="12" fill="#FF0000"/>
<rect x="506.6" y="439.6" width="19.849999999999955" height="12" fill="#00CCFF"/>
<rect x="526.4" y="439.6" width="32.350000000000065" height="12" fill="#0066FF"/>
<rect x="41.8" y="439.6" width="516.9" height="11.9" fill="none" stroke="#333" stroke-width="0.8" stroke-opacity="0.45"/>
<rect x="41.5" y="452.6" width="517.2" height="28.2" fill="#EEEEEE"/>
<line x1="41.6" y1="452" x2="41.6" y2="481" stroke="#8E8E8E" stroke-width="1.1" />
<line x1="558.4" y1="452" x2="558.4" y2="481" stroke="#999" stroke-width="1.1" />
<line x1="41" y1="480.6" x2="559" y2="480.6" stroke="#999" stroke-width="1.3" />
<line x1="328" y1="452" x2="328" y2="481" stroke="#A5A5A5" stroke-width="1.4" />
<text x="145.4" y="477.4" font-size="26.2" fill="#111" textLength="117.8" lengthAdjust="spacingAndGlyphs" >microarray</text>
<text x="414.2" y="477.3" font-size="24.2" fill="#111" textLength="95" lengthAdjust="spacingAndGlyphs" >RNA-seq</text>
<rect x="584" y="330.6" width="86.2" height="134.8" fill="#fff" stroke="#333" stroke-width="1"/>
<line x1="670.4" y1="413.5" x2="672.6" y2="413.5" stroke="#444" stroke-width="0.9" />
<rect x="592.4" y="336.10" width="18.6" height="5.8" fill="#0000FF"/>
<text x="619.4" y="342.30" font-size="9.2" fill="#222" style="stroke:#333;stroke-width:0.2px" textLength="39.8" lengthAdjust="spacingAndGlyphs">GLDS37</text>
<rect x="592.4" y="344.53" width="18.6" height="5.8" fill="#6600FF"/>
<text x="619.4" y="350.73" font-size="9.2" fill="#222" style="stroke:#333;stroke-width:0.2px" textLength="39.8" lengthAdjust="spacingAndGlyphs">GLDS38</text>
<rect x="592.4" y="352.96" width="18.6" height="5.8" fill="#00FF66"/>
<text x="619.4" y="359.16" font-size="9.2" fill="#222" style="stroke:#333;stroke-width:0.2px" textLength="46.3" lengthAdjust="spacingAndGlyphs">GLDS208</text>
<rect x="592.4" y="361.39" width="18.6" height="5.8" fill="#00CCFF"/>
<text x="619.4" y="367.59" font-size="9.2" fill="#222" style="stroke:#333;stroke-width:0.2px" textLength="46.3" lengthAdjust="spacingAndGlyphs">GLDS218</text>
<rect x="592.4" y="369.82" width="18.6" height="5.8" fill="#0066FF"/>
<text x="619.4" y="376.02" font-size="9.2" fill="#222" style="stroke:#333;stroke-width:0.2px" textLength="46.3" lengthAdjust="spacingAndGlyphs">GLDS251</text>
<rect x="592.4" y="378.25" width="18.6" height="5.8" fill="#FF0000"/>
<text x="619.4" y="384.45" font-size="9.2" fill="#222" style="stroke:#333;stroke-width:0.2px" textLength="46.3" lengthAdjust="spacingAndGlyphs">GLDS120</text>
<rect x="592.4" y="386.68" width="18.6" height="5.8" fill="#FF0066"/>
<text x="619.4" y="392.88" font-size="9.2" fill="#222" style="stroke:#333;stroke-width:0.2px" textLength="33.3" lengthAdjust="spacingAndGlyphs">GLDS7</text>
<rect x="592.4" y="395.11" width="18.6" height="5.8" fill="#66FF00"/>
<text x="619.4" y="401.31" font-size="9.2" fill="#222" style="stroke:#333;stroke-width:0.2px" textLength="39.8" lengthAdjust="spacingAndGlyphs">GLDS17</text>
<rect x="592.4" y="403.54" width="18.6" height="5.8" fill="#CC00FF"/>
<text x="619.4" y="409.74" font-size="9.2" fill="#222" style="stroke:#333;stroke-width:0.2px" textLength="39.8" lengthAdjust="spacingAndGlyphs">GLDS44</text>
<rect x="592.4" y="411.97" width="18.6" height="5.8" fill="#FF00CC"/>
<text x="619.4" y="418.17" font-size="9.2" fill="#222" style="stroke:#333;stroke-width:0.2px" textLength="39.8" lengthAdjust="spacingAndGlyphs">GLDS46</text>
<rect x="592.4" y="420.40" width="18.6" height="5.8" fill="#FF6600"/>
<text x="619.4" y="426.60" font-size="9.2" fill="#222" style="stroke:#333;stroke-width:0.2px" textLength="46.3" lengthAdjust="spacingAndGlyphs">GLDS121</text>
<rect x="592.4" y="428.83" width="18.6" height="5.8" fill="#FFCC00"/>
<text x="619.4" y="435.03" font-size="9.2" fill="#222" style="stroke:#333;stroke-width:0.2px" textLength="46.3" lengthAdjust="spacingAndGlyphs">GLDS136</text>
<rect x="592.4" y="437.26" width="18.6" height="5.8" fill="#CCFF00"/>
<text x="619.4" y="443.46" font-size="9.2" fill="#222" style="stroke:#333;stroke-width:0.2px" textLength="46.3" lengthAdjust="spacingAndGlyphs">GLDS147</text>
<rect x="592.4" y="445.69" width="18.6" height="5.8" fill="#00FF00"/>
<text x="619.4" y="451.89" font-size="9.2" fill="#222" style="stroke:#333;stroke-width:0.2px" textLength="46.3" lengthAdjust="spacingAndGlyphs">GLDS205</text>
<rect x="592.4" y="454.12" width="18.6" height="5.8" fill="#00FFCC"/>
<text x="619.4" y="460.32" font-size="9.2" fill="#222" style="stroke:#333;stroke-width:0.2px" textLength="46.3" lengthAdjust="spacingAndGlyphs">GLDS213</text>
<path d="M79 433H109.5" stroke="#555" stroke-width="1.8"/>
<path d="M315.0 325.0H483.4 M315.0 325.0V344.3 M483.4 325.0V356.3 M276.7 344.3H353.3 M276.7 344.3V384.7 M353.3 344.3V399.0 M232.2 384.7H321.7 M321.7 384.7V434.2 M232.2 384.7V395.8 M204.4 395.8H259.1 M204.4 395.8V403.2 M187.6 403.2H221.0 M187.6 403.2V416.6 M132.5 416.6H211.5 M164.0 417.4H196.4 M211.5 416.6V434.2 M196.4 417.4V434.2 M132.5 416.6V421.0 M107.2 421.0H157.5 M107.2 421.0V426.2 M94.3 426.2H120.4 M94.3 426.2V432.8 M120.4 426.2V434.2 M157.5 421.0V424.0 M140.9 424.0H174.8 M140.9 424.0V427.7 M132.5 427.7H149.6 M132.5 427.7V434.2 M149.6 427.7V434.2 M174.8 424.0V427.1 M168.3 427.1H181.0 M168.3 427.1V434.2 M181.0 427.1V434.2 M221.0 403.2V420.5 M218.8 420.5H223.2 M218.8 420.5V434.2 M223.2 420.5V434.2 M259.1 395.8V408.0 M248.3 408.0H270.6 M248.3 408.0V413.5 M241.9 413.5H253.6 M241.9 413.5V419.3 M235.5 419.3H248.3 M235.5 419.3V434.2 M248.3 419.3V428.9 M246.6 428.9H251.3 M246.6 428.9V434.2 M251.3 428.9V434.2 M253.6 413.5V434.2 M270.6 408.0V421.9 M333.9 399.0H371.5 M333.9 399.0V420.0 M371.5 399.0V418.9 M351.9 418.9H389.5 M377.0 419.6H389.5 M351.9 418.9V423.5 M389.5 418.9V421.5 M447.5 356.3H519.2 M447.5 356.3V405.6 M441.7 405.6H452.5 M441.7 405.6V429.0 M452.5 405.6V411.7 M446.3 411.7H458.6 M446.3 411.7V429.5 M458.6 411.7V421.8 M449.5 421.8H468.0 M449.5 421.8V427.0 M468.0 421.8V426.0 M519.2 356.3V394.0 M510.6 394.0H527.2 M510.6 394.0V434.2 M527.2 394.0V401.1 M521.2 401.1H533.7 M521.2 401.1V432.2 M533.7 401.1V423.7 M225.8 433.0V434.2 M228.2 433.1V434.2 M225.8 433.0V431.7H228.2V433.1 M230.4 433.6V434.2 M232.9 433.6V434.2 M230.4 433.6V432.8H232.9V433.6 M227.0 431.7V428.5H231.6V432.8 M229.3 428.5H229.5 M255.6 428.0V434.2 M257.4 427.6V434.2 M259.2 427.2V434.2 M261.0 426.8V434.2 M262.8 426.2V434.2 M264.6 425.6V434.2 M266.4 425.0V434.2 M268.2 424.4V434.2 M270.0 423.6V434.2 M271.8 422.8V434.2 M273.4 421.9V434.2 M255.6 427.6H257.4 M257.4 427.2H259.2 M259.2 426.8H261.0 M261.0 426.2H262.8 M262.8 425.6H264.6 M264.6 425.0H266.4 M266.4 424.4H268.2 M268.2 423.6H270.0 M270.0 422.8H271.8 M271.8 421.9H273.4 M270.6 421.9H273.4 M328.5 431.5V434.2 M329.8 431.5V434.2 M328.5 431.5V428.3H329.8V431.5 M331.1 431.9V434.2 M332.4 431.3V434.2 M331.1 431.9V430.5H332.4V431.3 M334.2 429.5V434.2 M331.7 430.5V427.9H334.2V429.5 M329.1 428.3V422.8H333.0V427.9 M336.3 426.9V434.2 M337.9 429.0V434.2 M339.4 430.1V434.2 M337.9 429.0V426.1H339.4V430.1 M336.3 426.9V423.9H338.6V426.1 M331.0 422.8V419.4H337.5V423.9 M333.9 419.4H334.2 M340.9 432.8V434.2 M342.3 432.6V434.2 M340.9 432.8V430.8H342.3V432.6 M343.6 431.6V434.2 M344.8 431.5V434.2 M343.6 431.6V430.4H344.8V431.5 M341.6 430.8V428.7H344.2V430.4 M346.5 429.5V434.2 M348.3 432.8V434.2 M349.8 432.3V434.2 M348.3 432.8V431.2H349.8V432.3 M346.5 429.5V428.1H349.1V431.2 M342.9 428.7V424.0H347.8V428.1 M345.0 424.0H345.3 M345.0 423.0H356.6 M345.0 423.0V424.0 M352.0 433.2V434.2 M353.1 432.8V434.2 M352.0 433.2V432.3H353.1V432.8 M354.3 431.9V434.2 M352.6 432.3V431.4H354.3V431.9 M355.9 431.5V434.2 M357.8 432.8V434.2 M359.5 432.9V434.2 M357.8 432.8V432.4H359.5V432.9 M355.9 431.5V430.4H358.7V432.4 M353.4 431.4V428.5H357.3V430.4 M361.0 426.3V434.2 M362.4 431.0V434.2 M363.8 430.8V434.2 M362.4 431.0V429.1H363.8V430.8 M361.0 426.3V424.7H363.1V429.1 M355.4 428.5V423.0H362.1V424.7 M356.6 423.0H358.7 M365.0 431.0V434.2 M366.4 432.2V434.2 M365.0 431.0V429.9H366.4V432.2 M367.9 431.5V434.2 M369.0 432.4V434.2 M367.9 431.5V430.5H369.0V432.4 M365.7 429.9V428.8H368.4V430.5 M370.4 429.9V434.2 M372.0 431.8V434.2 M370.4 429.9V428.8H372.0V431.8 M373.7 431.3V434.2 M375.4 432.6V434.2 M376.8 432.5V434.2 M375.4 432.6V432.1H376.8V432.5 M373.7 431.3V430.3H376.1V432.1 M371.2 428.8V426.5H374.9V430.3 M367.1 428.8V424.5H373.0V426.5 M370.1 424.5H371.0 M377.0 421.5H401.8 M377.0 421.5V424.5 M378.2 431.4V434.2 M379.4 431.6V434.2 M378.2 431.4V430.0H379.4V431.6 M381.0 430.2V434.2 M378.8 430.0V428.2H381.0V430.2 M382.7 432.6V434.2 M384.4 432.8V434.2 M382.7 432.6V431.2H384.4V432.8 M386.4 429.9V434.2 M383.6 431.2V428.5H386.4V429.9 M388.0 431.5V434.2 M389.6 431.3V434.2 M388.0 431.5V428.4H389.6V431.3 M385.0 428.5V426.9H388.8V428.4 M379.9 428.2V424.5H386.9V426.9 M383.0 424.5H383.4 M390.8 422.0H403.0 M390.8 422.0V424.0 M403.0 422.0V424.5 M386.5 431.0V434.2 M388.6 430.3V434.2 M390.6 431.5V434.2 M388.6 430.3V429.0H390.6V431.5 M386.5 431.0V427.2H389.6V429.0 M392.2 429.2V434.2 M393.5 429.6V434.2 M392.2 429.2V428.2H393.5V429.6 M394.8 430.9V434.2 M396.0 430.3V434.2 M394.8 430.9V427.8H396.0V430.3 M392.8 428.2V426.0H395.4V427.8 M388.0 427.2V424.0H394.1V426.0 M390.8 424.0H391.1 M397.3 430.7V434.2 M398.7 431.7V434.2 M400.2 432.0V434.2 M398.7 431.7V431.1H400.2V432.0 M397.3 430.7V429.5H399.4V431.1 M402.1 431.5V434.2 M403.8 430.7V434.2 M402.1 431.5V428.3H403.8V430.7 M405.3 431.0V434.2 M406.9 430.0V434.2 M405.3 431.0V428.9H406.9V430.0 M403.0 428.3V426.7H406.1V428.9 M398.4 429.5V424.5H404.5V426.7 M401.4 424.5H403.0 M408.3 422.4H420.6 M414.0 421.5V422.4 M406.1 430.6V434.2 M407.3 427.7V434.2 M406.1 430.6V426.4H407.3V427.7 M408.5 432.9V434.2 M409.7 431.8V434.2 M408.5 432.9V431.3H409.7V431.8 M411.5 431.7V434.2 M409.1 431.3V429.7H411.5V431.7 M406.7 426.4V425.0H410.3V429.7 M408.3 425.0H408.5 M413.2 433.1V434.2 M414.5 432.7V434.2 M413.2 433.1V432.0H414.5V432.7 M415.9 432.4V434.2 M413.9 432.0V431.1H415.9V432.4 M417.6 432.8V434.2 M419.1 432.4V434.2 M417.6 432.8V431.3H419.1V432.4 M414.9 431.1V428.8H418.3V431.3 M420.7 431.5V434.2 M422.6 432.2V434.2 M420.7 431.5V430.9H422.6V432.2 M424.4 432.7V434.2 M426.0 432.6V434.2 M424.4 432.7V431.3H426.0V432.6 M421.6 430.9V429.4H425.2V431.3 M416.6 428.8V424.5H423.4V429.4 M420.0 424.5H420.6 M427.2 432.9V434.2 M428.6 433.3V434.2 M427.2 432.9V432.5H428.6V433.3 M430.0 432.2V434.2 M431.5 432.7V434.2 M430.0 432.2V431.4H431.5V432.7 M427.9 432.5V430.6H430.7V431.4 M433.0 432.4V434.2 M434.7 432.7V434.2 M433.0 432.4V431.9H434.7V432.7 M436.6 432.9V434.2 M438.3 432.9V434.2 M436.6 432.9V432.4H438.3V432.9 M433.8 431.9V430.1H437.4V432.4 M429.3 430.6V427.0H435.6V430.1 M432.0 427.0H432.5 M439.0 433.6V434.2 M440.3 433.8V434.2 M439.0 433.6V433.1H440.3V433.8 M441.8 433.4V434.2 M439.6 433.1V432.2H441.8V433.4 M443.4 433.5V434.2 M444.6 432.8V434.2 M443.4 433.5V431.6H444.6V432.8 M440.7 432.2V429.0H444.0V431.6 M441.7 429.0H442.3 M444.6 433.4V434.2 M445.9 433.4V434.2 M444.6 433.4V431.5H445.9V433.4 M447.3 433.5V434.2 M448.5 432.3V434.2 M447.3 433.5V431.0H448.5V432.3 M445.3 431.5V429.5H447.9V431.0 M446.3 429.5H446.6 M448.7 430.6V434.2 M450.5 429.9V434.2 M448.7 430.6V427.0H450.5V429.9 M449.5 427.0H449.6 M451.7 432.2V434.2 M453.1 432.1V434.2 M454.4 431.9V434.2 M453.1 432.1V431.2H454.4V431.9 M451.7 432.2V430.7H453.7V431.2 M456.0 430.2V434.2 M452.7 430.7V429.5H456.0V430.2 M458.0 431.4V434.2 M459.8 432.3V434.2 M458.0 431.4V431.0H459.8V432.3 M461.3 431.6V434.2 M462.6 431.5V434.2 M461.3 431.6V431.1H462.6V431.5 M458.9 431.0V430.5H461.9V431.1 M454.4 429.5V428.1H460.4V430.5 M463.9 432.4V434.2 M465.6 432.7V434.2 M463.9 432.4V432.2H465.6V432.7 M467.3 432.7V434.2 M468.6 432.8V434.2 M467.3 432.7V432.4H468.6V432.8 M464.8 432.2V431.7H467.9V432.4 M470.2 432.7V434.2 M472.0 433.2V434.2 M473.2 433.0V434.2 M472.0 433.2V432.6H473.2V433.0 M470.2 432.7V431.9H472.6V432.6 M466.3 431.7V430.2H471.4V431.9 M474.7 433.3V434.2 M476.3 433.4V434.2 M474.7 433.3V432.8H476.3V433.4 M478.1 432.4V434.2 M475.5 432.8V432.0H478.1V432.4 M479.9 432.0V434.2 M481.6 432.3V434.2 M479.9 432.0V431.0H481.6V432.3 M476.8 432.0V430.5H480.8V431.0 M468.9 430.2V428.7H478.8V430.5 M457.4 428.1V426.0H473.8V428.7 M465.6 426.0H468.0 M483.0 433.7V434.2 M485.7 433.7V434.2 M483.0 433.7V433.1H485.7V433.7 M487.8 433.9V434.2 M490.0 434.0V434.2 M487.8 433.9V433.4H490.0V434.0 M484.4 433.1V432.4H488.9V433.4 M492.2 433.7V434.2 M494.3 433.7V434.2 M492.2 433.7V432.8H494.3V433.7 M496.5 433.1V434.2 M493.3 432.8V431.3H496.5V433.1 M486.6 432.4V428.5H494.9V431.3 M490.0 428.5H490.8 M514.9 433.8V434.2 M517.0 434.0V434.2 M518.4 433.8V434.2 M517.0 434.0V433.6H518.4V433.8 M514.9 433.8V432.9H517.7V433.6 M521.5 433.6V434.2 M525.2 433.7V434.2 M521.5 433.6V433.2H525.2V433.7 M516.3 432.9V432.2H523.3V433.2 M519.8 432.2H521.2 M527.3 431.9V434.2 M529.2 432.4V434.2 M527.3 431.9V431.3H529.2V432.4 M531.1 431.5V434.2 M528.3 431.3V430.9H531.1V431.5 M532.7 431.8V434.2 M533.8 431.9V434.2 M532.7 431.8V431.2H533.8V431.9 M535.4 431.7V434.2 M533.2 431.2V430.0H535.4V431.7 M529.7 430.9V428.4H534.3V430.0 M537.3 432.7V434.2 M539.2 432.9V434.2 M537.3 432.7V432.4H539.2V432.9 M540.7 432.6V434.2 M541.8 432.2V434.2 M540.7 432.6V431.9H541.8V432.2 M538.3 432.4V431.0H541.2V431.9 M543.0 431.9V434.2 M544.2 431.9V434.2 M543.0 431.9V431.0H544.2V431.9 M545.4 430.8V434.2 M543.6 431.0V429.7H545.4V430.8 M539.7 431.0V428.8H544.5V429.7 M532.0 428.4V425.3H542.1V428.8 M546.8 431.0V434.2 M548.5 430.4V434.2 M546.8 431.0V429.8H548.5V430.4 M550.3 431.4V434.2 M552.2 431.6V434.2 M550.3 431.4V429.7H552.2V431.6 M547.6 429.8V426.4H551.3V429.7 M553.9 431.3V434.2 M555.2 429.9V434.2 M553.9 431.3V429.2H555.2V429.9 M556.6 429.5V434.2 M558.0 429.8V434.2 M556.6 429.5V428.9H558.0V429.8 M554.6 429.2V427.9H557.3V428.9 M549.5 426.4V425.3H555.9V427.9 M537.1 425.3V423.7H552.7V425.3 M533.7 423.7H544.9 M48.3 434.2V432.8H51.2V434.2 M57.7 434.2V432.9H59.6V434.2 M64.2 434.2V433.0H67.4V434.2 M72.7 434.2V433.3H76.0V434.2 M77.4 434.2V433.0H79.0V434.2 M112.5 434.2V432.7H115.6V434.2 M116.7 434.2V433.0H118.2V434.2 M121.0 434.2V432.8H124.4V434.2 M128.7 434.2V432.3H130.3V434.2 M153.0 434.2V433.1H154.9V434.2 M156.4 434.2V432.4H159.7V434.2 M182.0 434.2V433.0H184.7V434.2 M189.1 434.2V432.5H191.4V434.2" fill="none" stroke="#3A3A3A" stroke-width="1"/>
<path d="M42.5 435H328.5" stroke="#333" stroke-width="1.8" stroke-dasharray="6.8 0.6 6.6 0.4 4.7 0.6 3.1 0.6 6.2 0.7 4.2 0.9 6.3 0.6 6.3 0.7 5.7 0.6 8.0 0.7 6.5 0.8 7.9 0.4 6.1 0.8 4.3 0.6 3.3 0.5 4.9 0.4 4.3 0.9 5.8 0.7 7.8 0.7 8.0 0.7 7.0 0.4 6.0 0.8 3.2 0.9 3.8 0.6 3.8 0.6 6.1 0.4 7.7 0.6 5.6 0.7 4.8 0.5 6.3 0.7 4.4 0.8 4.5 0.4 4.2 0.4 3.8 0.8 4.9 0.8 6.7 0.4 7.9 0.9 3.4 0.9 5.1 0.6 7.9 0.5 5.6 0.9 6.6 0.6 7.9 0.8 6.0 0.5 6.1 0.6 4.0 0.4 5.6 0.5 5.2 0.7 5.3 0.5 5.9 0.6 6.9 0.7 8.0 0.9 6.7 0.5 3.6 0.8 6.9 0.7 4.8 0.5 6.4 0.7 6.0 0.7 6.8 0.5 4.2 0.9 7.6 0.8 3.2 0.4 4.4 0.6 6.1 0.5 5.7 0.4 3.4 0.7 5.8 0.7 4.9 0.6 4.1 0.6 6.7 0.8 3.4 0.5 7.0 0.7 6.8 0.5 5.1 0.5 7.0 0.6 6.3 0.9 4.6 0.7 6.7 0.9 5.1 0.6 3.5 0.8 3.4 0.4 5.8 0.6 6.4 0.5 6.9 0.4 4.1 0.7 3.4 0.6 6.6 0.7 4.4 0.5 4.8 0.8 4.8 0.5 6.5 0.7 7.6 0.9 7.6 0.6 7.0 0.6 4.6 0.6 7.7 0.8 4.2 0.6 4.8 0.6 5.0 0.6 4.0 0.7 7.0 0.7 7.2 0.7 3.9 0.8 7.4 0.5 3.1 0.7 5.7 0.7 7.8 0.7 7.0 0.4 5.7 0.8 3.4 0.4 6.7 0.8 3.4 0.7 3.7 0.8 6.2 0.5 4.1 0.8 5.6 0.8 5.0 0.6 7.8 0.7 5.5 0.7 6.6 0.8 7.6 0.6 7.1 0.7 7.3 0.8 7.2 0.8 7.8 0.7 5.6 0.8 7.0 0.6 5.1 0.5 6.7 0.9 4.9 0.5 4.0 0.6 4.5 0.9 3.3 0.6 3.6 0.7 6.9 0.5 3.3 0.6 5.9 0.9 3.2 0.5 3.9 0.5 4.2 0.8 6.0 0.5 3.9 0.5 3.9 0.8 4.6 0.7 7.1 0.6 4.3 0.8 7.6 0.6 5.7 0.9 5.4 0.5 3.2 0.9 7.0 0.6 5.6 0.7 4.4 0.9 6.3 0.5 3.1 0.6 4.9 0.8 6.6 0.7 3.8 0.5 4.6 0.5 7.3 0.7 6.2 0.9 4.3 0.7 3.8 0.8 3.0 0.8 7.2 0.8 3.4 0.5 6.6 0.4 5.4 0.6 7.8 0.7 7.3 0.6 6.9 0.6 7.6 0.4 7.1 0.5 5.7 0.7 3.8 0.8 4.6 0.6 3.4 0.6 5.3 0.8 4.8 0.7 3.5 0.6 5.3 0.9 7.1 0.7 3.1 0.6 6.6 0.5 5.8 0.6 3.1 0.9 7.0 0.5 6.1 0.5 4.9 0.7 4.5 0.6 5.0 0.7 4.3 0.5 6.7 0.6 7.7 0.7 6.6 0.6 7.1 0.4 3.7 0.4 6.4 0.8 3.9 0.6 7.2 0.7"/>
<path d="M496 434.6H510" stroke="#444" stroke-width="1.2"/>
<path d="M314.5 432.6H325.8" stroke="#444" stroke-width="1.2"/>
</svg></body></html>
